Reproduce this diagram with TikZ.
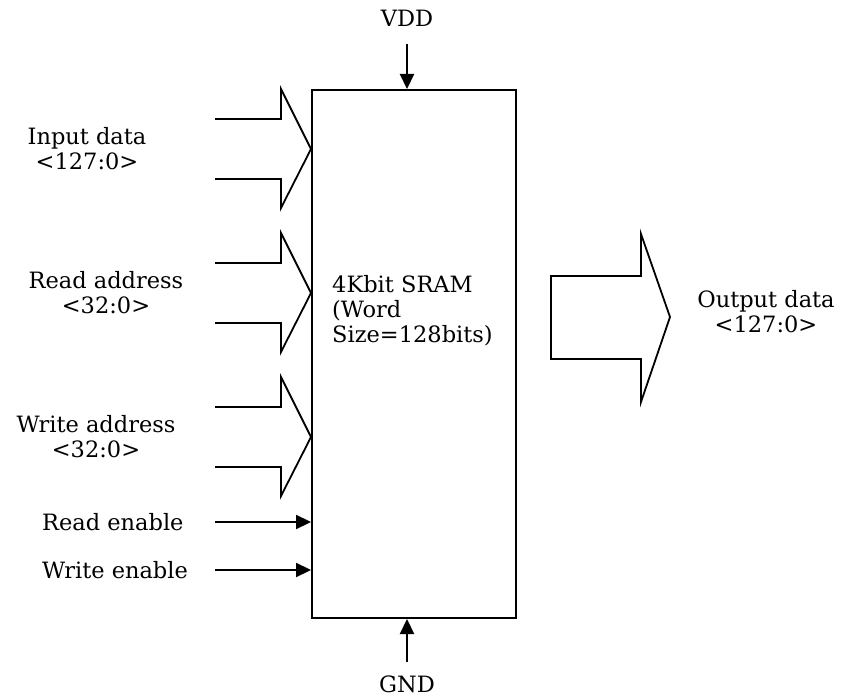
\documentclass[tikz,border=0pt]{standalone}
\usepackage{fontspec}
\setmainfont{DejaVu Serif}
\usetikzlibrary{arrows.meta,positioning,calc}

\begin{document}
\begin{tikzpicture}[
  x=1pt,y=-1pt,
  font=\fontsize{22.5}{25}\selectfont,
  block/.style={draw,line width=2pt,minimum width=204pt,minimum height=528pt,anchor=north west,inner sep=0pt},
  bus/.style={line width=1.8pt,line join=miter},
  arrow/.style={-{Triangle[length=15pt,width=14pt]},line width=2.2pt},
  lbl/.style={align=center,inner sep=0pt}
]
\useasboundingbox (0,0) rectangle (841,700);

% memory block
\node[block] (sram) at (311,89) {};
\node[anchor=north west,align=left,inner sep=0pt] (name) at (332,275) {4Kbit SRAM\\(Word\\Size=128bits)};

% supply
\node[lbl] (vdd) at (407,18) {VDD};
\node[lbl] (gnd) at (407,684) {GND};
\coordinate (vddin) at (407,44);
\coordinate (gndin) at (407,662);
\draw[arrow] (vddin) -- (vddin |- sram.north);
\draw[arrow] (gndin) -- (gndin |- sram.south);

% input buses
\foreach \y/\name in {149/indata,293/rdaddr,437/wraddr}{
  \coordinate (\name) at (sram.west |- 0,\y);
  \draw[bus] (215,\y-30) -- (281,\y-30) -- (281,\y-60) -- (\name)
    -- (281,\y+59) -- (281,\y+30) -- (215,\y+30);
}
\node[lbl] (indatatxt) at (87,149) {Input data\\<127:0>};
\node[lbl] (rdaddrtxt) at (106,293) {Read address\\<32:0>};
\node[lbl] (wraddrtxt) at (96,437) {Write address\\<32:0>};

% enables
\node[anchor=west,inner sep=0pt] (rden) at (42,522) {Read enable};
\node[anchor=west,inner sep=0pt] (wren) at (42,570) {Write enable};
\coordinate (rdenin) at (215,522);
\coordinate (wrenin) at (215,570);
\draw[arrow] (rdenin) -- (rdenin -| sram.west);
\draw[arrow] (wrenin) -- (wrenin -| sram.west);

% output bus
\draw[bus] (551,276) -- (641,276) -- (641,234) -- (670,317) -- (641,402)
  -- (641,359) -- (551,359) -- cycle;
\node[lbl] (outdata) at (766,312) {Output data\\<127:0>};
\end{tikzpicture}
\end{document}
